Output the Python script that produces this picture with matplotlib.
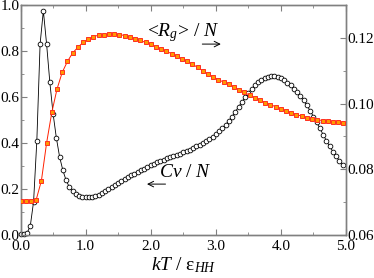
import numpy as np
import matplotlib
matplotlib.use("Agg")
import matplotlib.pyplot as plt
from matplotlib.ticker import MultipleLocator

plt.rcParams['font.family'] = ['Liberation Serif', 'DejaVu Serif']
plt.rcParams['mathtext.fontset'] = 'custom'
plt.rcParams['mathtext.rm'] = 'Liberation Serif'
plt.rcParams['mathtext.it'] = 'Liberation Serif:italic'

# temperature grids (kT / eps_HH)
cv_T = np.round(np.arange(0, 5.0, 0.05), 2)
rg_T = np.round(np.arange(0, 4.97, 0.08), 2)

# specific heat per monomer (left axis)
cv = [0.002, 0.002, 0.008, 0.040, 0.145, 0.41, 0.83, 0.975, 0.83, 0.663,
      0.526, 0.422, 0.339, 0.281, 0.237, 0.208, 0.190, 0.177, 0.169, 0.165,
      0.163, 0.163, 0.165, 0.168, 0.175, 0.183, 0.191, 0.199, 0.208, 0.217,
      0.227, 0.236, 0.245, 0.253, 0.260, 0.267, 0.274, 0.281, 0.288, 0.295,
      0.302, 0.309, 0.315, 0.321, 0.327, 0.333, 0.338, 0.344, 0.349, 0.354,
      0.359, 0.364, 0.370, 0.377, 0.385, 0.393, 0.401, 0.409, 0.418, 0.428,
      0.439, 0.451, 0.464, 0.479, 0.496, 0.515, 0.536, 0.557, 0.578, 0.598,
      0.617, 0.635, 0.651, 0.664, 0.674, 0.682, 0.688, 0.690, 0.690, 0.688,
      0.682, 0.673, 0.662, 0.650, 0.636, 0.620, 0.603, 0.585, 0.563, 0.540,
      0.515, 0.490, 0.463, 0.436, 0.410, 0.385, 0.362, 0.342, 0.322, 0.305]

# radius of gyration per monomer (right axis)
rg = [0.0702, 0.0702, 0.0702, 0.0707, 0.0765, 0.0880, 0.0973, 0.1044, 0.1095, 0.1128,
      0.1154, 0.1171, 0.1186, 0.1196, 0.1204, 0.1208, 0.1210, 0.1211, 0.1211, 0.1210,
      0.1207, 0.1203, 0.1198, 0.1192, 0.1186, 0.1180, 0.1173, 0.1166, 0.1159, 0.1152,
      0.1144, 0.1136, 0.1129, 0.1120, 0.1110, 0.1100, 0.1090, 0.1081, 0.1073, 0.1065,
      0.1058, 0.1050, 0.1042, 0.1034, 0.1025, 0.1018, 0.1011, 0.1003, 0.0997, 0.0990,
      0.0984, 0.0978, 0.0972, 0.0966, 0.0962, 0.0957, 0.0954, 0.0951, 0.0948, 0.0947,
      0.0945, 0.0944, 0.0942]

xticks = [0, 1, 2, 3, 4, 5]
xticklabels = ['0.0', '1.0', '2.0', '3.0', '4.0', '5.0']
yticks_left = [0.0, 0.2, 0.4, 0.6, 0.8, 1.0]
yticks_right = [0.06, 0.08, 0.10, 0.12]

spine_col = '#808080'

fig = plt.figure(figsize=(3.74, 2.78), dpi=100)
ax = fig.add_axes([0.055, 0.155, 0.87, 0.827])
ax2 = ax.twinx()

ax.plot(cv_T, cv, '-', color='black', lw=0.6, marker='o', ms=3.4,
        mfc='white', mec='black', mew=0.6, clip_on=False, zorder=3)
ax2.plot(rg_T, rg, '-', color='#ff2000', lw=0.7, marker='s', ms=3.4,
         mfc='#ff9900', mec='#ff3020', mew=0.7, zorder=3)

ax.set_xlim(0, 5)
ax.set_ylim(0, 1.0)
ax2.set_ylim(0.06, 0.13)

ax.set_xticks(xticks)
ax.set_xticklabels(xticklabels)
ax.set_yticks(yticks_left)
ax.set_yticklabels(['%.1f' % v for v in yticks_left])
ax.xaxis.set_minor_locator(MultipleLocator(0.5))
ax.yaxis.set_minor_locator(MultipleLocator(0.1))
ax2.set_yticks(yticks_right)
ax2.set_yticklabels(['%.2f' % v for v in yticks_right])
ax2.yaxis.set_minor_locator(MultipleLocator(0.01))

for a in (ax, ax2):
    for s in a.spines.values():
        s.set_color(spine_col)
        s.set_linewidth(1.0)
ax.tick_params(which='both', direction='in', top=True, color=spine_col,
               labelsize=11)
ax.tick_params(which='major', length=4)
ax.tick_params(which='minor', length=2.5)
ax.tick_params(axis='x', pad=4)
ax.tick_params(axis='y', pad=1)
ax2.tick_params(which='both', direction='in', color=spine_col, labelsize=11, pad=1)
ax2.tick_params(which='major', length=4)
ax2.tick_params(which='minor', length=2.5)

ax.set_xlabel(r'$kT$ / ε$_{HH}$', fontsize=14, labelpad=1)

ax.text(1.94, 0.865, r'<$R_g$> / $N$', fontsize=14, va='baseline', ha='left')
ax.annotate('', xy=(3.12, 0.830), xytext=(2.75, 0.830),
            arrowprops=dict(arrowstyle='->', lw=0.7, color='black'))
ax.text(2.12, 0.250, r'$Cv$ / $N$', fontsize=14, va='baseline', ha='left')
ax.annotate('', xy=(1.9, 0.221), xytext=(2.27, 0.221),
            arrowprops=dict(arrowstyle='->', lw=0.7, color='black'))

fig.savefig('out.png', dpi=100)
